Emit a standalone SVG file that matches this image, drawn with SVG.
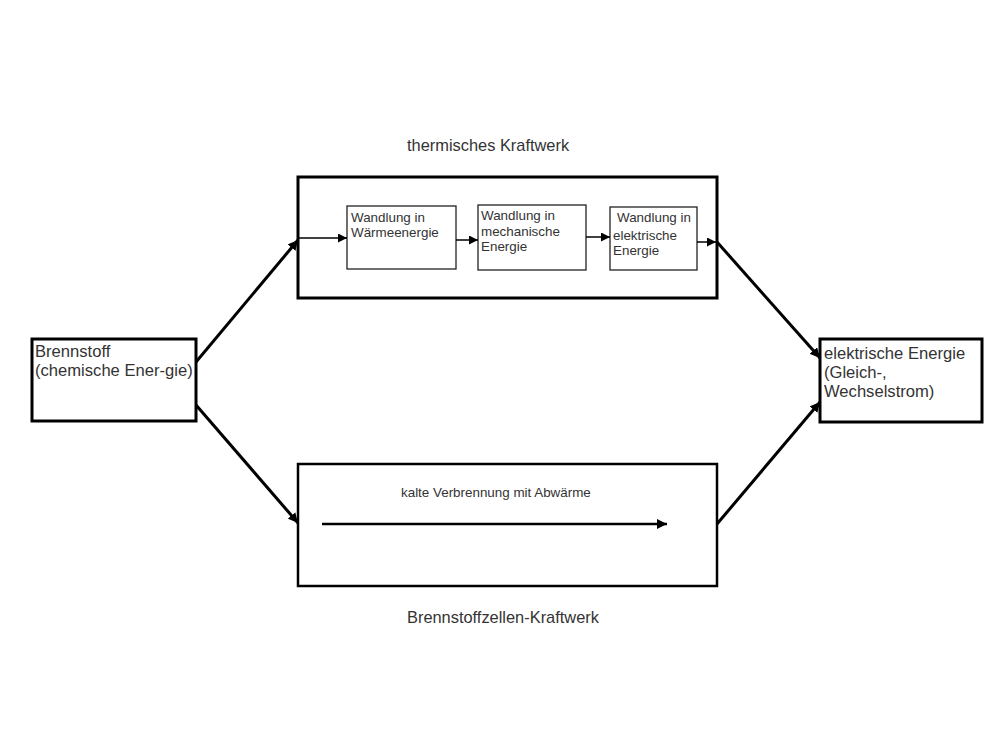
<svg xmlns="http://www.w3.org/2000/svg" width="1000" height="750" viewBox="0 0 1000 750">
<style>
text{font-family:"Liberation Sans",Arial,sans-serif;fill:#333}
.big{font-size:16.4px}
.mid{font-size:16.6px}
.sm{font-size:13.4px}
.thick{fill:#fff;stroke:#000;stroke-width:3}
.thin{fill:#fff;stroke:#222;stroke-width:1.3}
.c{stroke:#000;fill:none}
</style>
<defs>
<marker id="ah" viewBox="0 0 10 10" refX="10" refY="5" markerWidth="10" markerHeight="10" markerUnits="userSpaceOnUse" orient="auto"><path d="M0,0 L10,5 L0,10 z" fill="#000"/></marker>
<marker id="ahs" viewBox="0 0 10 10" refX="10" refY="5" markerWidth="9" markerHeight="9" markerUnits="userSpaceOnUse" orient="auto"><path d="M0,0 L10,5 L0,10 z" fill="#000"/></marker>
</defs>
<rect width="1000" height="750" fill="#fff"/>
<text class="big" x="407" y="151">thermisches Kraftwerk</text>
<text class="big" x="407" y="623">Brennstoffzellen-Kraftwerk</text>
<g id="thermal">
<rect class="thick" x="298" y="177" width="419" height="121"/>
</g>
<g id="fuelcell">
<rect class="thick" x="298" y="464" width="419" height="122" style="stroke-width:2.5"/>
<text class="sm" x="401" y="497">kalte Verbrennung mit Abwärme</text>
</g>
<g id="w1">
<rect class="thin" x="347" y="206" width="109" height="63"/>
<text class="sm" x="351" y="222">Wandlung in</text>
<text class="sm" x="351" y="237">Wärmeenergie</text>
</g>
<g id="w2">
<rect class="thin" x="478" y="205" width="108" height="65"/>
<text class="sm" x="481" y="220">Wandlung in</text>
<text class="sm" x="481" y="236">mechanische</text>
<text class="sm" x="481" y="251">Energie</text>
</g>
<g id="w3">
<rect class="thin" x="610" y="207" width="87" height="63"/>
<text class="sm" x="617" y="222">Wandlung in</text>
<text class="sm" x="613" y="240">elektrische</text>
<text class="sm" x="613" y="255">Energie</text>
</g>
<g id="brennstoff">
<rect class="thick" x="32" y="339" width="164" height="82"/>
<text class="mid" x="35" y="357">Brennstoff</text>
<text class="mid" x="35" y="376">(chemische Ener-gie)</text>
</g>
<g id="elektrisch">
<rect class="thick" x="820" y="339" width="162" height="83"/>
<text class="mid" x="824" y="359">elektrische Energie</text>
<text class="mid" x="824" y="378">(Gleich-,</text>
<text class="mid" x="824" y="397">Wechselstrom)</text>
</g>
<g id="connectors">
<line class="c" x1="196" y1="362" x2="298" y2="240" stroke-width="3" marker-end="url(#ah)"/>
<line class="c" x1="196" y1="405" x2="298" y2="523" stroke-width="3" marker-end="url(#ah)"/>
<line class="c" x1="717" y1="242" x2="820" y2="358" stroke-width="3" marker-end="url(#ah)"/>
<line class="c" x1="717" y1="524" x2="820" y2="402" stroke-width="3" marker-end="url(#ah)"/>
<line class="c" x1="299" y1="238" x2="347" y2="238" stroke-width="1.5" marker-end="url(#ahs)"/>
<line class="c" x1="456" y1="240" x2="478" y2="240" stroke-width="1.5" marker-end="url(#ahs)"/>
<line class="c" x1="586" y1="237" x2="610" y2="237" stroke-width="1.5" marker-end="url(#ahs)"/>
<line class="c" x1="697" y1="242" x2="716" y2="242" stroke-width="1.5" marker-end="url(#ahs)"/>
<line class="c" x1="322" y1="524" x2="667" y2="524" stroke-width="2.5" marker-end="url(#ah)"/>
</g>
</svg>
